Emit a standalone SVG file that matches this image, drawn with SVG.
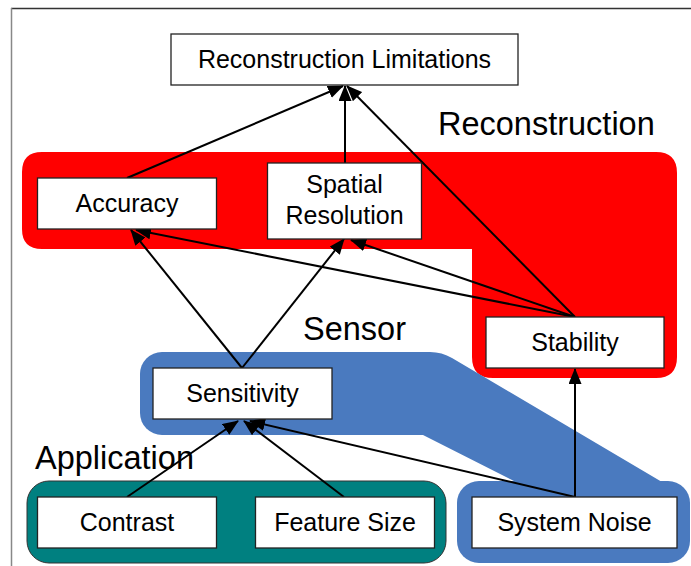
<svg xmlns="http://www.w3.org/2000/svg" width="691" height="566" viewBox="0 0 691 566">
<style>
.box{fill:#fff;stroke:#222;stroke-width:1.3}
.t{font-family:"Liberation Sans",Arial,sans-serif;font-size:25px;fill:#000;text-anchor:middle}
.big{font-family:"Liberation Sans",Arial,sans-serif;font-size:32.5px;fill:#000}
.c{stroke:#000;stroke-width:2;fill:none;marker-end:url(#ah)}
</style>
<defs>
<marker id="ah" markerUnits="userSpaceOnUse" markerWidth="16" markerHeight="13" refX="15" refY="6.5" orient="auto">
<path d="M0,0 L16,6.5 L0,13 Z" fill="#000"/>
</marker>
</defs>
<rect x="0" y="0" width="691" height="566" fill="#fff"/>
<line x1="11" y1="8.5" x2="691" y2="8.5" stroke="#333" stroke-width="1.5"/>
<line x1="11.5" y1="8" x2="11.5" y2="566" stroke="#888" stroke-width="1.5"/>

<g id="group-reconstruction">
<path d="M42,152 H656 Q677,152 677,173 V357 Q677,378 656,378 H493 Q472,378 472,357 V249 H42 Q22,249 22,229 V172 Q22,152 42,152 Z" fill="#ff0000"/>
<text class="big" x="438" y="135">Reconstruction</text>
</g>
<g id="group-sensor">
<rect x="140" y="352" width="300" height="83" rx="22" fill="#4a7abf"/>
<path d="M400,352 H430 Q442,352 452,358 L662,482 L520,484 L423,435 H400 Z" fill="#4a7abf"/>
<rect x="457" y="481" width="233" height="82" rx="22" fill="#4a7abf"/>
<text class="big" x="303" y="340">Sensor</text>
</g>
<g id="group-application">
<rect x="27" y="481" width="419" height="82" rx="22" fill="#008080" stroke="#333" stroke-width="1"/>
<text class="big" x="35" y="469">Application</text>
</g>

<g id="connectors">
<line class="c" x1="127" y1="178" x2="343" y2="86"/>
<line class="c" x1="345" y1="163" x2="345" y2="86"/>
<line class="c" x1="575" y1="317" x2="347" y2="86"/>
<line class="c" x1="242" y1="368" x2="131" y2="230"/>
<line class="c" x1="242" y1="368" x2="344" y2="239"/>
<line class="c" x1="575" y1="317" x2="136" y2="230"/>
<line class="c" x1="575" y1="317" x2="351" y2="240"/>
<line class="c" x1="127" y1="497" x2="238" y2="421"/>
<line class="c" x1="344" y1="497" x2="244" y2="421"/>
<line class="c" x1="575" y1="497" x2="250" y2="421"/>
<line class="c" x1="575" y1="497" x2="575" y2="369"/>
</g>

<g id="node-reconstruction-limitations">
<rect class="box" x="171" y="34" width="347" height="51"/>
<text class="t" x="344.5" y="68">Reconstruction Limitations</text>
</g>
<g id="node-accuracy">
<rect class="box" x="37.5" y="178" width="179" height="51"/>
<text class="t" x="127" y="212">Accuracy</text>
</g>
<g id="node-spatial-resolution">
<rect class="box" x="267.5" y="163" width="154" height="76"/>
<text class="t" x="344.5" y="193">Spatial</text>
<text class="t" x="344.5" y="224">Resolution</text>
</g>
<g id="node-stability">
<rect class="box" x="486" y="317" width="178" height="51"/>
<text class="t" x="575" y="351">Stability</text>
</g>
<g id="node-sensitivity">
<rect class="box" x="153" y="368" width="179" height="51"/>
<text class="t" x="242.5" y="402">Sensitivity</text>
</g>
<g id="node-contrast">
<rect class="box" x="37.5" y="497" width="179" height="51"/>
<text class="t" x="127" y="531">Contrast</text>
</g>
<g id="node-feature-size">
<rect class="box" x="255.5" y="497" width="179" height="51"/>
<text class="t" x="345" y="531">Feature Size</text>
</g>
<g id="node-system-noise">
<rect class="box" x="472" y="497" width="205" height="51"/>
<text class="t" x="574.5" y="531">System Noise</text>
</g>
</svg>
